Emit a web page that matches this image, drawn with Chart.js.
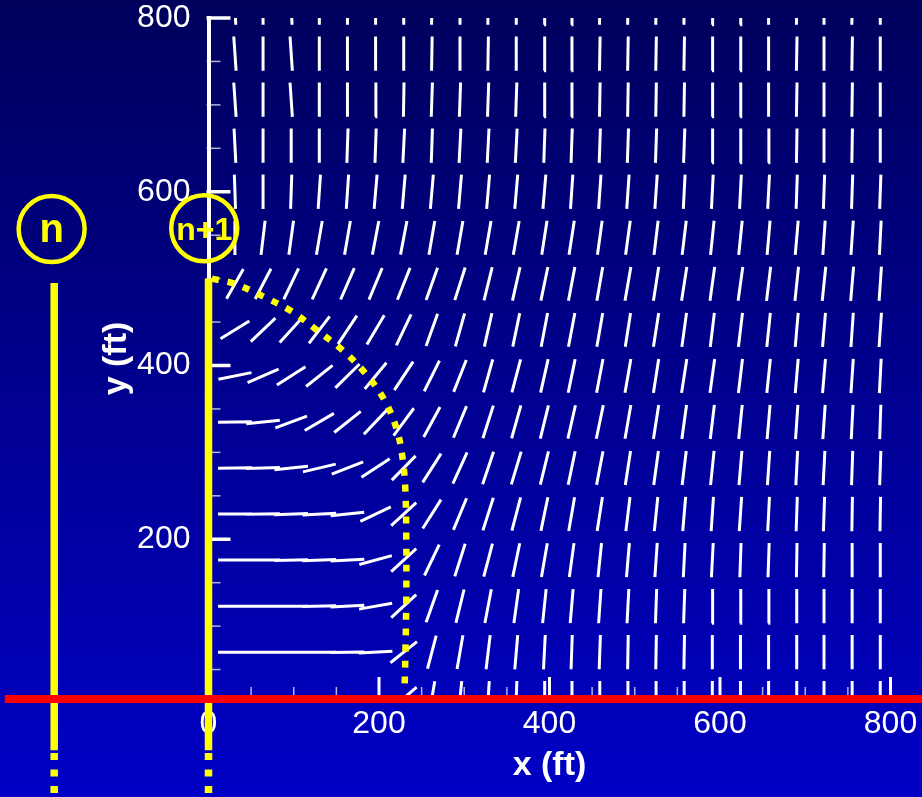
<!DOCTYPE html>
<html>
<head>
<meta charset="utf-8">
<script src="https://cdn.jsdelivr.net/npm/chart.js@4.4.1/dist/chart.umd.min.js"></script>
<style>
html,body{margin:0;padding:0;background:#000080;overflow:hidden}
canvas{display:block}
</style>
</head>
<body>
<canvas id="c" width="922" height="797"></canvas>
<script>
// ---------------- data ----------------
const X_TICKS = [0, 200, 400, 600, 800];
const X_TICK_LABELS = ['0', '200', '400', '600', '800'];
const X_MINOR = [50, 100, 150, 250, 300, 350, 450, 500, 550, 650, 700, 750];
const Y_TICKS = [200, 400, 600, 800];
const Y_TICK_LABELS = ['200', '400', '600', '800'];
const Y_MINOR = [50, 100, 150, 250, 300, 350, 450, 500, 550, 650, 700, 750];
const X_MIN = 0, X_MAX = 800;
const Y_MIN = 16.1, Y_MAX = 800;

// vector grid (ft)
const GRID_X = [31, 64, 97, 130, 163, 196, 229, 262, 295, 328, 361, 394, 426, 459, 492, 525, 558, 591, 624, 657, 690, 722, 755, 788];
const GRID_Y = [812, 759, 706, 653, 600, 547, 494, 441, 388, 335, 282, 229, 176, 123, 70, 17];
// direction of each vector, degrees from the +x axis (rows follow GRID_Y, columns follow GRID_X)
const ANGLES = [
  [93,90,93,90,90,90,90,89,90,89,90,89,89,89,89,89,89,89,89,90,89,90,89,90],
  [94,90,94,90,90,90,90,89,90,89,90,89,89,89,89,89,89,89,89,90,89,90,89,90],
  [94,90,94,90,90,89,89,88,88,88,88,89,89,89,89,89,89,89,89,90,89,90,89,90],
  [93,90,90,90,88,88,87,88,87,87,87,88,88,88,88,88,88,89,89,89,89,90,89,90],
  [92,90,88,86,86,85,85,85,85,85,85,85,86,86,86,86,87,87,87,87,88,88,88,88],
  [90,83,82,80,80,79,79,80,80,80,80,81,81,82,82,83,83,84,84,85,85,86,86,87],
  [60,62,64,65,66,67,68,70,72,76,77,78,79,80,80,81,81,82,82,83,84,84,85,86],
  [31,43,47,52,56,59,64,70,74,77,78,79,79,80,81,81,82,83,83,84,85,85,86,86],
  [11,23,32,38,44,50,56,63,68,74,75,77,78,79,80,81,81,82,83,84,85,85,86,87],
  [1,6,20,30,38,46,53,61,67,72,74,76,77,78,80,81,82,83,84,85,86,86,87,88],
  [1,2,6,13,21,33,45,57,65,71,73,76,78,79,81,82,83,84,85,86,87,87,88,88],
  [0,1,2,3,6,25,42,57,67,72,75,78,80,81,83,84,85,86,86,87,88,88,89,89],
  [0,0,1,2,3,15,42,64,72,75,78,80,82,84,85,86,87,87,88,88,89,89,90,90],
  [0,0,0,1,3,10,42,70,76,79,82,84,85,86,87,88,88,89,89,89,90,90,90,90],
  [0,0,0,0,1,3,38,75,80,83,85,87,88,88,89,89,89,90,90,90,90,90,90,90],
  [0,0,0,0,0,0,40,80,84,86,88,89,89,90,90,90,90,90,90,90,90,90,90,90]
];

// dotted front curve (ft)
const FRONT_X = [4, 31, 65, 98, 128, 158, 184, 206, 221, 228, 231, 232, 232, 231, 230];
const FRONT_Y = [500, 494, 479, 462, 440, 417, 391, 361, 326, 291, 255, 200, 130, 70, 27];

// wells / columns n and n+1 (ft)
const WELL_LABELS = ['n', 'n+1'];
const WELL_X = [-181, 0];
const WELL_TOP = [495, 500];
const WELL_SOLID_BOTTOM = -43;
const WELL_DOTTED_TOP = -46;
const WELL_DOTTED_BOTTOM = -100;
const LABEL_X = [-184, -5];
const LABEL_Y = [557, 558];

// red base line (ft)
const BASE_X = [840, -239];
const BASE_Y = Y_MIN;

// ---------------- build ----------------
const VECTOR_LENGTH = 39.5;
const vectorData = [];
GRID_Y.forEach((y, j) => {
  GRID_X.forEach((x, k) => {
    const a = ANGLES[j][k] * Math.PI / 180;
    const dx = VECTOR_LENGTH / 2 * Math.cos(a);
    const dy = VECTOR_LENGTH / 2 * Math.sin(a);
    vectorData.push({x: x - dx, y: y - dy}, {x: x + dx, y: y + dy}, {x: x + dx, y: null});
  });
});

const frontData = FRONT_X.map((x, i) => ({x, y: FRONT_Y[i]}));

// points listed right-to-left so that Chart.js keeps the ones left of the axis
const wellSolid = [];
const wellDotted = [];
for (let i = WELL_X.length - 1; i >= 0; i--) {
  const x = WELL_X[i];
  wellSolid.push({x, y: WELL_TOP[i]}, {x, y: WELL_SOLID_BOTTOM}, {x, y: null});
  wellDotted.push({x, y: WELL_DOTTED_TOP}, {x, y: WELL_DOTTED_BOTTOM}, {x, y: null});
}

const YELLOW = '#ffff00';
const WHITE = '#ffffff';
const FONT = "'Liberation Sans', Arial, Helvetica, sans-serif";

const background = {
  id: 'background',
  beforeDraw(chart) {
    const {ctx, width, height} = chart;
    const g = ctx.createLinearGradient(0, 0, 0, height);
    g.addColorStop(0, '#00005c');
    g.addColorStop(1, '#0000c6');
    ctx.save();
    ctx.fillStyle = g;
    ctx.fillRect(0, 0, width, height);
    ctx.restore();
  }
};

const axisTicks = {
  id: 'axisTicks',
  beforeDatasetsDraw(chart) {
    const {ctx, chartArea, scales: {x, y}} = chart;
    ctx.save();
    ctx.lineCap = 'butt';
    const drawX = (vals, len, w, col) => {
      ctx.strokeStyle = col; ctx.lineWidth = w;
      vals.forEach(v => {
        const p = x.getPixelForValue(v);
        ctx.beginPath(); ctx.moveTo(p, chartArea.bottom); ctx.lineTo(p, chartArea.bottom - len); ctx.stroke();
      });
    };
    const drawY = (vals, len, w, col) => {
      ctx.strokeStyle = col; ctx.lineWidth = w;
      vals.forEach(v => {
        const p = y.getPixelForValue(v);
        ctx.beginPath(); ctx.moveTo(chartArea.left - 2, p); ctx.lineTo(chartArea.left + len, p); ctx.stroke();
      });
    };
    drawX(X_MINOR, 12, 1.5, 'rgba(255,255,255,0.7)');
    drawY(Y_MINOR, 12, 1.5, 'rgba(255,255,255,0.7)');
    drawX(X_TICKS, 22, 3, WHITE);
    drawY(Y_TICKS, 22, 3.5, WHITE);
    ctx.restore();
  }
};

const CIRCLE_RADIUS = 33;
const LABEL_FONTS = ['bold 40px ' + FONT, 'bold 32px ' + FONT];
const LABEL_BASELINE_OFFSET = [13, 12];
const wellLabels = {
  id: 'wellLabels',
  afterDatasetsDraw(chart) {
    const {ctx, scales: {x, y}} = chart;
    ctx.save();
    ctx.strokeStyle = YELLOW;
    ctx.fillStyle = YELLOW;
    ctx.lineWidth = 4.5;
    ctx.textAlign = 'center';
    ctx.textBaseline = 'alphabetic';
    WELL_LABELS.forEach((t, i) => {
      const cx = x.getPixelForValue(LABEL_X[i]);
      const cy = y.getPixelForValue(LABEL_Y[i]);
      ctx.beginPath();
      ctx.arc(cx, cy, CIRCLE_RADIUS, 0, Math.PI * 2);
      ctx.stroke();
      ctx.font = LABEL_FONTS[i];
      ctx.fillText(t, cx, cy + LABEL_BASELINE_OFFSET[i]);
    });
    ctx.restore();
  }
};

new Chart(document.getElementById('c'), {
  type: 'line',
  data: {
    datasets: [
      {label: 'base', data: [{x: BASE_X[0], y: BASE_Y}, {x: BASE_X[1], y: BASE_Y}],
       borderColor: '#ff0000', borderWidth: 8, pointRadius: 0, clip: false, order: 0, borderCapStyle: 'butt'},
      {label: 'wells', data: wellSolid, borderColor: YELLOW, borderWidth: 7.5, pointRadius: 0,
       clip: false, order: 2, borderCapStyle: 'butt', spanGaps: false},
      {label: 'wells dotted', data: wellDotted, borderColor: YELLOW, borderWidth: 7.5, pointRadius: 0,
       borderDash: [7, 9.5], clip: false, order: 2, borderCapStyle: 'butt', spanGaps: false},
      {label: 'front', data: frontData, borderColor: YELLOW, borderWidth: 6.5, pointRadius: 0,
       borderDash: [7, 9], tension: 0.35, clip: false, order: 3, borderCapStyle: 'butt'},
      {label: 'vectors', data: vectorData, borderColor: WHITE, borderWidth: 3, pointRadius: 0,
       clip: 0, order: 4, spanGaps: false, borderCapStyle: 'butt', tension: 0}
    ]
  },
  options: {
    responsive: false,
    animation: false,
    devicePixelRatio: 1,
    events: [],
    layout: {autoPadding: false, padding: {left: 0, top: 18, right: 31.5, bottom: 0}},
    plugins: {legend: {display: false}, tooltip: {enabled: false}, title: {display: false}},
    elements: {point: {radius: 0, hoverRadius: 0}, line: {tension: 0}},
    scales: {
      x: {
        type: 'linear', min: X_MIN, max: X_MAX,
        afterBuildTicks: s => { s.ticks = X_TICKS.map(v => ({value: v})); },
        afterFit: s => { s.height = 98; s.paddingLeft = 0; s.paddingRight = 0; s.paddingTop = 0; s.paddingBottom = 0; },
        grid: {display: false, drawTicks: false},
        border: {display: true, color: WHITE, width: 3},
        ticks: {color: WHITE, font: {family: FONT, size: 32, lineHeight: 1}, padding: 9,
                maxRotation: 0, autoSkip: false, callback: (v, i) => X_TICK_LABELS[i]},
        title: {display: true, text: 'x (ft)', color: WHITE,
                font: {family: FONT, size: 34, weight: 'bold', lineHeight: 1.2}, padding: {top: 0, bottom: 10.6}}
      },
      y: {
        type: 'linear', min: Y_MIN, max: Y_MAX,
        afterBuildTicks: s => { s.ticks = Y_TICKS.map(v => ({value: v})); },
        afterFit: s => { s.width = 208.5; s.paddingLeft = 0; s.paddingRight = 0; s.paddingTop = 0; s.paddingBottom = 0; },
        grid: {display: false, drawTicks: false},
        border: {display: true, color: WHITE, width: 4},
        ticks: {color: WHITE, font: {family: FONT, size: 32, lineHeight: 1}, padding: 18,
                autoSkip: false, callback: (v, i) => Y_TICK_LABELS[i]},
        title: {display: true, text: 'y (ft)', color: WHITE,
                font: {family: FONT, size: 34, weight: 'bold', lineHeight: 1.2}, padding: {top: 96.6, bottom: 0}}
      }
    }
  },
  plugins: [background, axisTicks, wellLabels]
});
</script>
</body>
</html>
